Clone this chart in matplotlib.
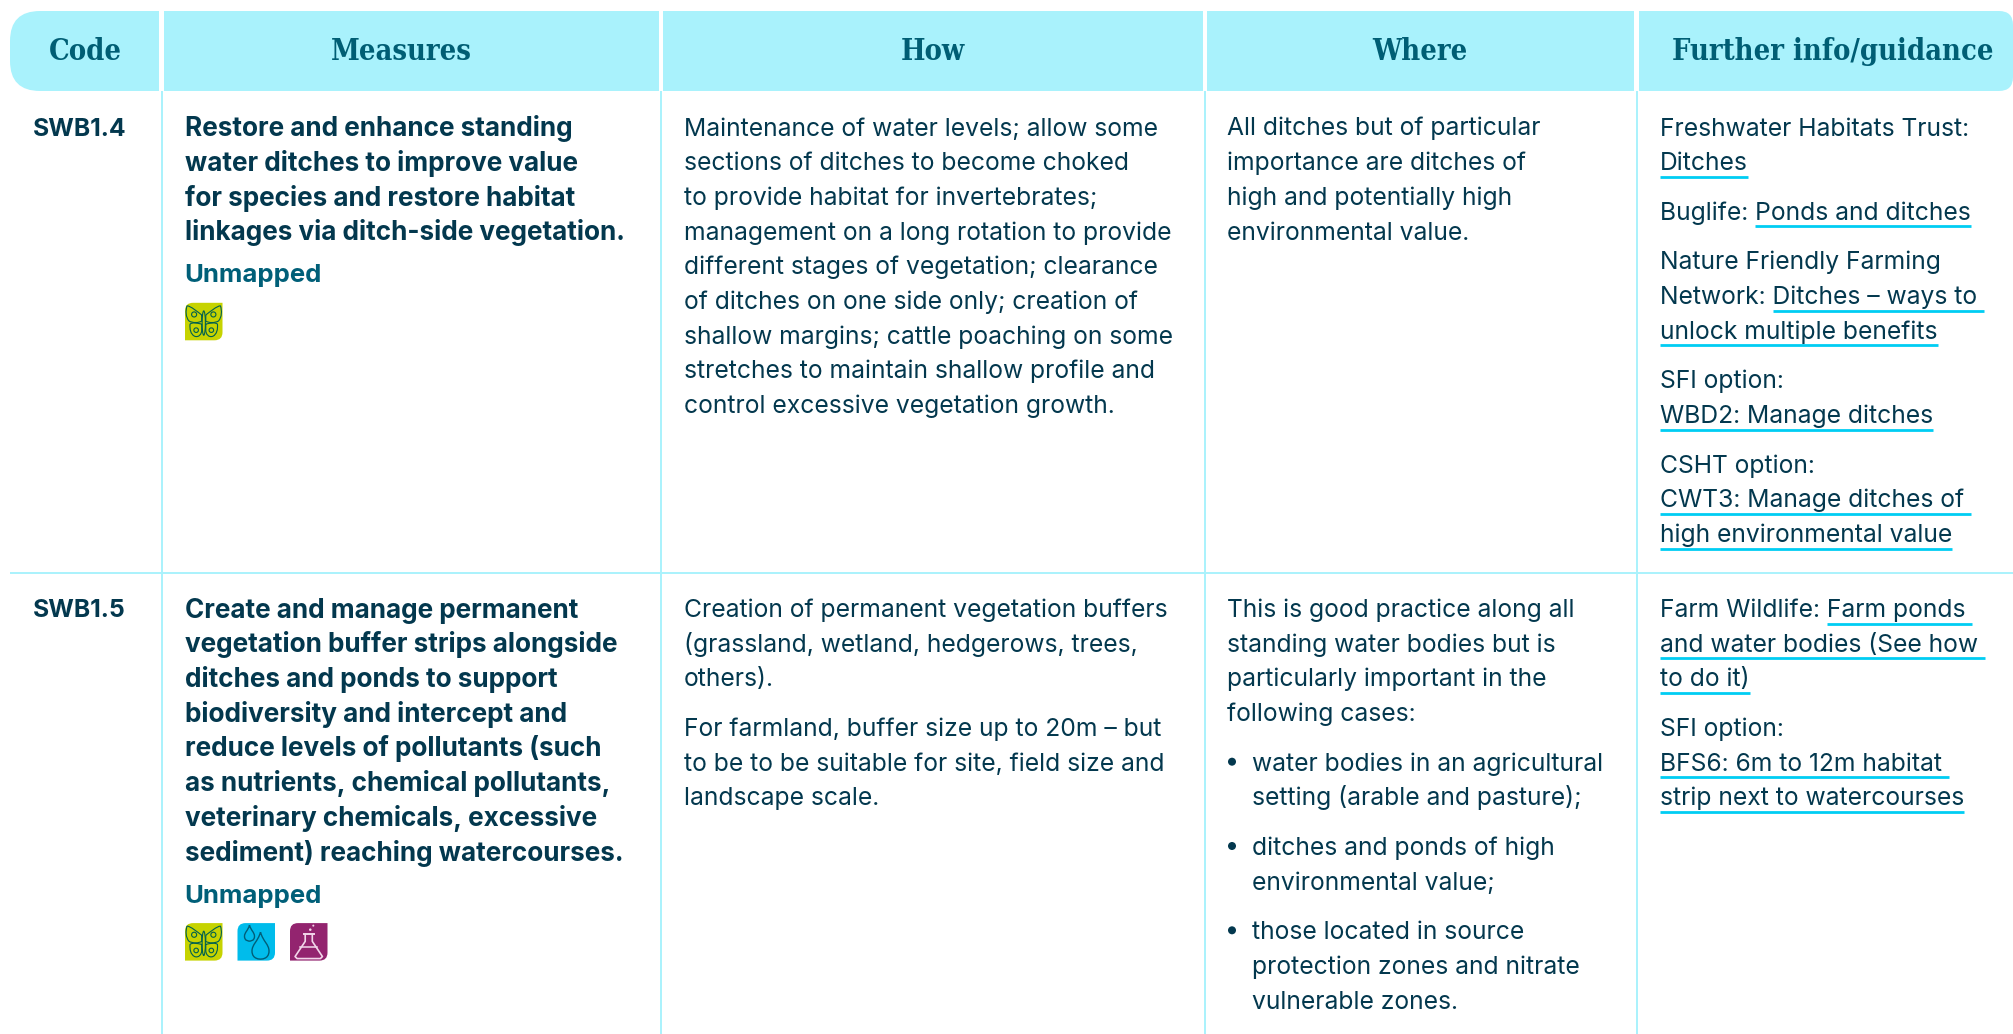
import re
import matplotlib
matplotlib.use("Agg")
import matplotlib.pyplot as plt
from matplotlib.patches import PathPatch, Ellipse
from matplotlib.path import Path

# table text, [..] marks a link
headers = ["Code", "Measures", "How", "Where", "Further info/guidance"]
codes = ["SWB1.4", "SWB1.5"]
measures = [
    ["Restore and enhance standing", "water ditches to improve value",
     "for species and restore habitat", "linkages via ditch-side vegetation."],
    ["Create and manage permanent", "vegetation buffer strips alongside",
     "ditches and ponds to support", "biodiversity and intercept and",
     "reduce levels of pollutants (such", "as nutrients, chemical pollutants,",
     "veterinary chemicals, excessive", "sediment) reaching watercourses."],
]
mapped = ["Unmapped", "Unmapped"]
icons = [["butterfly"], ["butterfly", "drops", "flask"]]
how = [
    [["Maintenance of water levels; allow some", "sections of ditches to become choked",
      "to provide habitat for invertebrates;", "management on a long rotation to provide",
      "different stages of vegetation; clearance", "of ditches on one side only; creation of",
      "shallow margins; cattle poaching on some", "stretches to maintain shallow profile and",
      "control excessive vegetation growth."]],
    [["Creation of permanent vegetation buffers", "(grassland, wetland, hedgerows, trees,", "others)."],
     ["For farmland, buffer size up to 20m – but", "to be to be suitable for site, field size and",
      "landscape scale."]],
]
where = [
    [["All ditches but of particular", "importance are ditches of",
      "high and potentially high", "environmental value."]],
    [["This is good practice along all", "standing water bodies but is",
      "particularly important in the", "following cases:"]],
]
where_bullets = [
    ["water bodies in an agricultural", "setting (arable and pasture);"],
    ["ditches and ponds of high", "environmental value;"],
    ["those located in source", "protection zones and nitrate", "vulnerable zones."],
]
further = [
    [["Freshwater Habitats Trust:", "[Ditches]"],
     ["Buglife: [Ponds and ditches]"],
     ["Nature Friendly Farming", "Network: [Ditches – ways to ]", "[unlock multiple benefits]"],
     ["SFI option:", "[WBD2: Manage ditches]"],
     ["CSHT option:", "[CWT3: Manage ditches of ]", "[high environmental value]"]],
    [["Farm Wildlife: [Farm ponds ]", "[and water bodies (See how ]", "[to do it)]"],
     ["SFI option:", "[BFS6: 6m to 12m habitat ]", "[strip next to watercourses]"]],
]

HEAD_BG = "#A9F2FC"
HEAD_TXT = "#005E74"
DARK = "#03384E"
LINK = "#00CDF3"
TEAL = "#005F78"
BODY_FONT = "Inter"
BODY_SIZE = 17.75
BOLD_SIZE = 18.8
PITCH = 34.7
GAP = 49.6

fig = plt.figure(figsize=(20.13, 10.34), dpi=100)
ax = fig.add_axes([0, 0, 1, 1])
ax.set_xlim(0, 2013)
ax.set_ylim(1034, 0)
ax.axis("off")
rend = fig.canvas.get_renderer()


def corner_box(x0, y0, x1, y1, tl=0, tr=0, br=0, bl=0, **kw):
    # rectangle with its own radius per corner
    verts = [(x0 + tl, y0), (x1 - tr, y0), (x1, y0), (x1, y0 + tr), (x1, y1 - br), (x1, y1), (x1 - br, y1),
             (x0 + bl, y1), (x0, y1), (x0, y1 - bl), (x0, y0 + tl), (x0, y0), (x0 + tl, y0)]
    c = [Path.MOVETO, Path.LINETO, Path.CURVE3, Path.CURVE3, Path.LINETO, Path.CURVE3, Path.CURVE3,
         Path.LINETO, Path.CURVE3, Path.CURVE3, Path.LINETO, Path.CURVE3, Path.CURVE3]
    ax.add_patch(PathPatch(Path(verts, c), lw=0, **kw))


def width(s):
    t = ax.text(0, 0, s + "|", family=BODY_FONT, fontsize=BODY_SIZE)
    a = t.get_window_extent(rend).width
    t.set_text("|")
    b = t.get_window_extent(rend).width
    t.remove()
    return a - b


def put_line(x, y, line):
    parts = re.split(r"(\[.*?\])", line)
    cur = ""
    for p in parts:
        if p.startswith("["):
            s = p[1:-1]
            x0 = x + width(cur)
            x1 = x + width(cur + s)
            ax.plot([x0, x1], [y + 6.5, y + 6.5], color=LINK, lw=2.0, solid_capstyle="butt")
            cur += s
        else:
            cur += p
    ax.text(x, y, cur, family=BODY_FONT, fontsize=BODY_SIZE, color=DARK, va="baseline")


def put_blocks(x, y, blocks):
    for block in blocks:
        for line in block:
            put_line(x, y, line)
            y += PITCH
        y += GAP - PITCH
    return y


def butterfly(x, y, s):
    col = "#00604F"
    k = s / 37.0
    cx = x + s / 2
    upper = [(2, 12), (6, 9), (13, 3), (16.5, 3), (18, 8), (18, 14), (14.5, 18), (11, 20), (5, 20), (2, 18), (2, 16), (2, 14), (2, 12)]
    lower = [(2, 21), (7, 20), (11, 19), (13.5, 21), (14, 26), (13, 31), (9, 33), (5, 34.5), (2, 31), (2, 27), (2, 25), (2, 23), (2, 21)]
    codes_w = [Path.MOVETO] + [Path.CURVE4] * 12
    for sgn in (-1, 1):
        for shape in (upper, lower):
            pts = [(cx + sgn * a * k, y + b * k) for a, b in shape]
            ax.add_patch(PathPatch(Path(pts, codes_w), fill=False, ec=col, lw=0.8))
        ax.add_patch(Ellipse((cx + sgn * 9.5 * k, y + 11.5 * k), 5 * k, 5 * k, fill=False, ec=col, lw=0.8))
        ax.add_patch(Ellipse((cx + sgn * 7.5 * k, y + 27 * k), 4.5 * k, 4.5 * k, fill=False, ec=col, lw=0.8))
    ax.add_patch(Ellipse((cx, y + 20 * k), 3.2 * k, 24 * k, fill=False, ec=col, lw=0.8))


def drop(cx, top, h, w, col):
    b = top + h
    v = [(cx, top), (cx + w * 0.15, top + h * 0.35), (cx + w / 2, top + h * 0.45), (cx + w / 2, top + h * 0.7),
         (cx + w / 2, b + h * 0.02), (cx, b), (cx, b), (cx, b), (cx - w / 2, b + h * 0.02), (cx - w / 2, top + h * 0.7),
         (cx - w / 2, top + h * 0.45), (cx - w * 0.15, top + h * 0.35), (cx, top)]
    c = [Path.MOVETO] + [Path.CURVE4] * 12
    ax.add_patch(PathPatch(Path(v, c), fill=False, ec=col, lw=1.0))


def flask(x, y, s):
    k = s / 37.0
    X = lambda v: x + v * k
    Y = lambda v: y + v * k
    pts = [(15, 11), (15, 18), (5, 33), (7, 35), (30, 35), (32, 33), (22, 18), (22, 11)]
    ax.plot([X(a) for a, b in pts], [Y(b) for a, b in pts], color="#F2D6EA", lw=1.2)
    ax.plot([X(13.5), X(23.5)], [Y(10.5), Y(10.5)], color="#F2D6EA", lw=1.4)
    ax.plot([X(10), X(27)], [Y(24), Y(24)], color="#F2D6EA", lw=1.1)
    ax.add_patch(Ellipse((X(20), Y(6.5)), 2.5 * k, 2.5 * k, color="#F2D6EA", lw=0))
    ax.add_patch(Ellipse((X(23), Y(2.5)), 2 * k, 2 * k, color="#F2D6EA", lw=0))


def icon(kind, x, y):
    s = 37.5
    bg = {"butterfly": "#C6D300", "drops": "#00BCEB", "flask": "#93246F"}[kind]
    corner_box(x, y, x + s, y + s, tl=8, br=8, color=bg)
    if kind == "butterfly":
        butterfly(x, y, s)
    elif kind == "drops":
        drop(x + 12, y + 2, 16, 10, "#005E78")
        drop(x + 23, y + 9, 27, 17, "#005E78")
    else:
        flask(x, y, s)


# header band
cells = [(10, 159), (164, 659), (663, 1203), (1207, 1634), (1639, 2013)]
centres = [85, 401, 933, 1420, 1833]
for i, (a, b) in enumerate(cells):
    tl = bl = 30 if i == 0 else 0
    tr = br = 14 if i == 4 else 0
    corner_box(a, 11, b, 91, tl=tl, bl=bl, tr=tr, br=br, color=HEAD_BG)
    ax.text(centres[i], 60, headers[i], family="DejaVu Serif", weight="bold", stretch="condensed", fontsize=20.8,
            color=HEAD_TXT, ha="center", va="baseline")

# grid
for xv in [162, 660.5, 1205, 1636.5]:
    ax.plot([xv, xv], [91, 1034], color=HEAD_BG, lw=1.4, solid_capstyle="butt")
ax.plot([10, 2013], [572.5, 572.5], color=HEAD_BG, lw=1.4, solid_capstyle="butt")

# rows
row_y = [135.5, 617]
for r in range(2):
    y0 = row_y[r]
    ax.text(33, y0, codes[r], family=BODY_FONT, weight="bold", fontsize=BODY_SIZE, color=DARK)
    y = y0 + 0.6
    for line in measures[r]:
        ax.text(185, y, line, family=BODY_FONT, weight="bold", fontsize=BOLD_SIZE, color=DARK)
        y += PITCH
    y += GAP - PITCH - 7.5
    ax.text(184, y, mapped[r], family=BODY_FONT, weight="bold", fontsize=18.5, color=TEAL)
    for i, kind in enumerate(icons[r]):
        icon(kind, 185 + i * 52.5, y + 20.5)
    put_blocks(684, y0, how[r])
    put_blocks(1660, y0, further[r])
    put_blocks(1227, y0, where[r])

y = row_y[1] + 3 * PITCH + GAP
for b in where_bullets:
    ax.add_patch(Ellipse((1232, y - 9), 8, 8, color=DARK, lw=0))
    for line in b:
        put_line(1252, y, line)
        y += PITCH
    y += GAP - PITCH

fig.savefig("out.png", dpi=100)
